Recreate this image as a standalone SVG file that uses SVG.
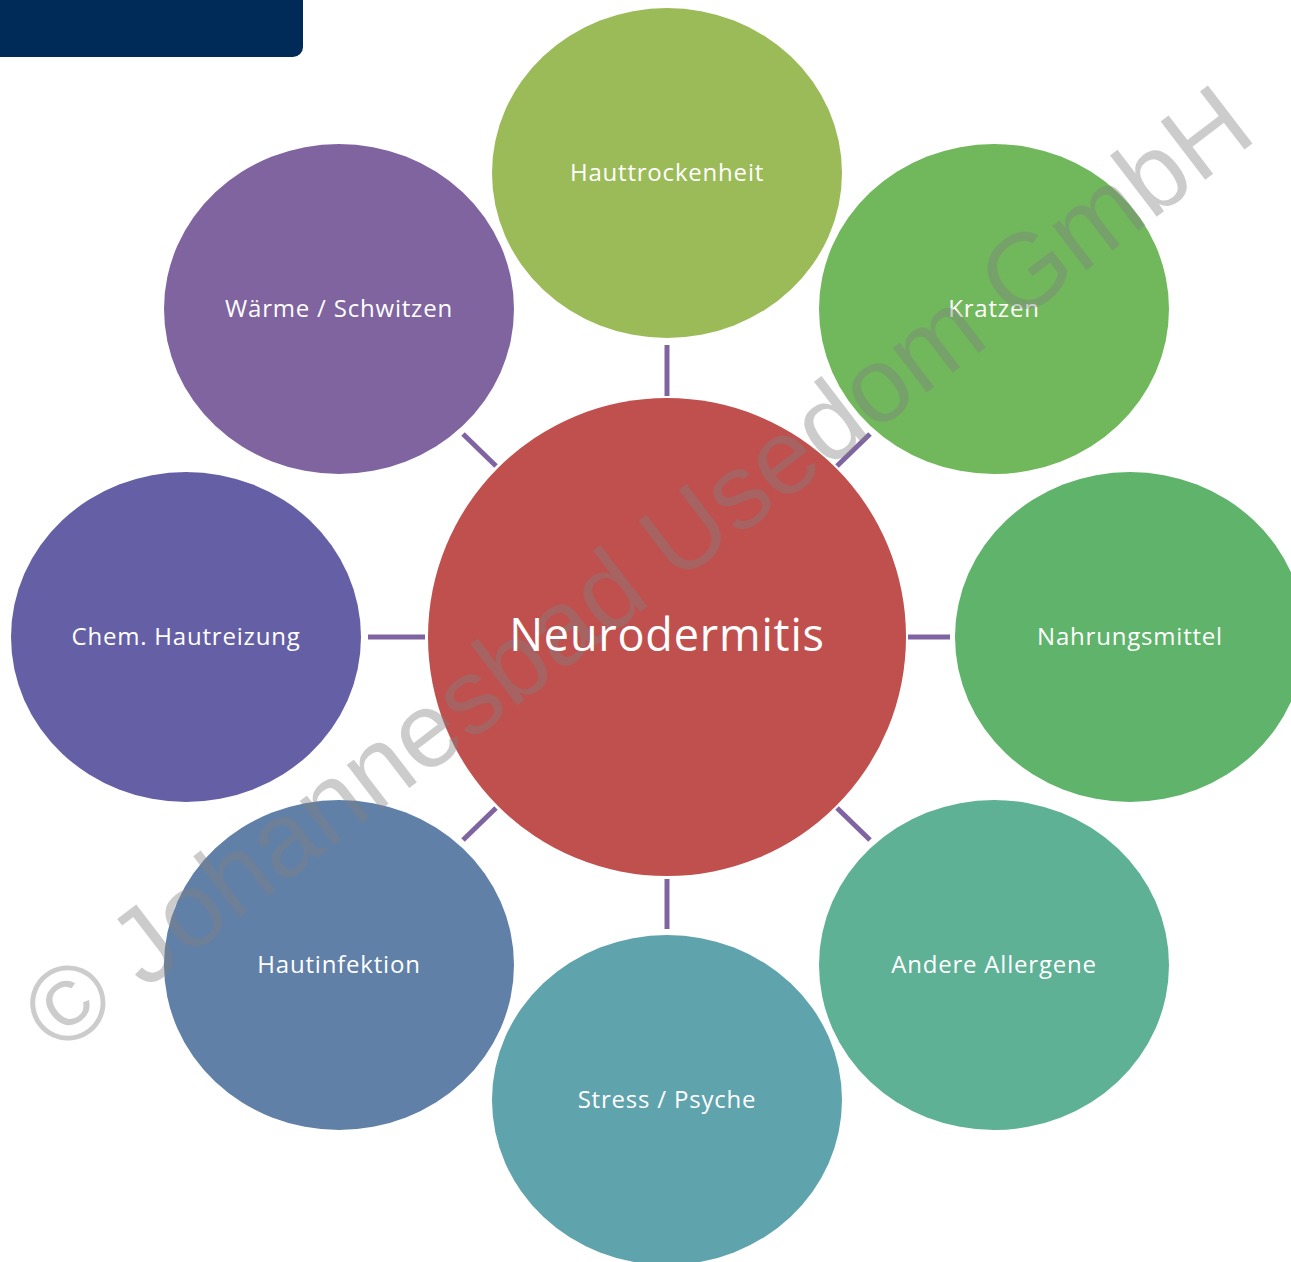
<svg xmlns="http://www.w3.org/2000/svg" width="1291" height="1262" viewBox="0 0 1291 1262">
<style>
.lbl{font-family:"Open Sans","Noto Sans",sans-serif;font-size:24px;letter-spacing:0.8px;fill:#ffffff;text-anchor:middle}
.big{font-family:"Open Sans","Noto Sans",sans-serif;font-size:45px;letter-spacing:0.8px;fill:#ffffff;text-anchor:middle}
.con line{stroke:#8064A2;stroke-width:5}
.wm{font-family:"Liberation Sans",Arial,sans-serif;font-size:106.5px;fill:#808080;fill-opacity:0.4}
</style>
<rect width="1291" height="1262" fill="#ffffff"/>
<path d="M0 0 H303 V47 A10 10 0 0 1 293 57 H0 Z" fill="#002A58"/>
<g class="con">
<line x1="667" y1="345" x2="667" y2="396"/>
<line x1="667" y1="879" x2="667" y2="929"/>
<line x1="368" y1="637" x2="425" y2="637"/>
<line x1="908" y1="637" x2="950" y2="637"/>
<line x1="463" y1="434" x2="496" y2="466"/>
<line x1="837" y1="466" x2="870" y2="434"/>
<line x1="463" y1="840" x2="496" y2="808"/>
<line x1="837" y1="808" x2="870" y2="840"/>
</g>
<g id="n1"><ellipse cx="667" cy="173" rx="175" ry="165" fill="#9BBB59"/><text class="lbl" x="667" y="181">Hauttrockenheit</text></g>
<g id="n2"><ellipse cx="994" cy="309" rx="175" ry="165" fill="#71B85C"/><text class="lbl" x="994" y="317">Kratzen</text></g>
<g id="n3"><ellipse cx="1130" cy="637" rx="175" ry="165" fill="#5FB36B"/><text class="lbl" x="1130" y="645">Nahrungsmittel</text></g>
<g id="n4"><ellipse cx="994" cy="965" rx="175" ry="165" fill="#5EB195"/><text class="lbl" x="994" y="973">Andere Allergene</text></g>
<g id="n5"><ellipse cx="667" cy="1100" rx="175" ry="165" fill="#5FA3AC"/><text class="lbl" x="667" y="1108">Stress / Psyche</text></g>
<g id="n6"><ellipse cx="339" cy="965" rx="175" ry="165" fill="#6180A8"/><text class="lbl" x="339" y="973">Hautinfektion</text></g>
<g id="n7"><ellipse cx="186" cy="637" rx="175" ry="165" fill="#6560A5"/><text class="lbl" x="186" y="645">Chem. Hautreizung</text></g>
<g id="n8"><ellipse cx="339" cy="309" rx="175" ry="165" fill="#8064A0"/><text class="lbl" x="339" y="317">Wärme / Schwitzen</text></g>
<g id="center"><circle cx="667" cy="637" r="239" fill="#C0504D"/>
<text class="wm" x="59" y="1056" transform="rotate(-37.4 59 1056)">© Johannesbad Usedom GmbH</text>
<text class="big" x="667" y="651">Neurodermitis</text></g>
</svg>
